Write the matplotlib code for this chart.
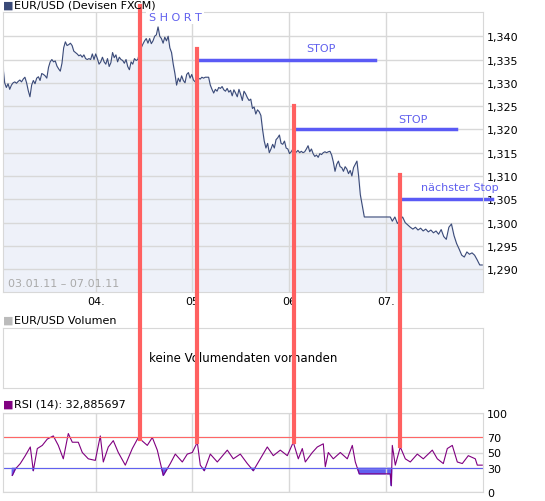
import numpy as np
import matplotlib
matplotlib.use('Agg')
from matplotlib import pyplot as plt
from matplotlib import transforms
from matplotlib.lines import Line2D

# EUR/USD quotes (x in 15-minute bars from 03.01.11 00:00)
price = [1.3350, 1.3335, 1.3300, 1.3290, 1.3298, 1.3286, 1.3295, 1.3300, 1.3302, 1.3299,
         1.3303, 1.3306, 1.3302, 1.3308, 1.3312, 1.3300, 1.3283, 1.3270, 1.3295, 1.3305,
         1.3298, 1.3310, 1.3313, 1.3305, 1.3320, 1.3318, 1.3315, 1.3310, 1.3333, 1.3345,
         1.3350, 1.3345, 1.3347, 1.3336, 1.3330, 1.3325, 1.3342, 1.3375, 1.3388, 1.3380,
         1.3382, 1.3385, 1.3380, 1.3368, 1.3365, 1.3362, 1.3358, 1.3360, 1.3355, 1.3360,
         1.3352, 1.3350, 1.3352, 1.3350, 1.3362, 1.3350, 1.3362, 1.3352, 1.3340, 1.3345,
         1.3355, 1.3345, 1.3340, 1.3352, 1.3335, 1.3343, 1.3365, 1.3354, 1.3360, 1.3345,
         1.3355, 1.3350, 1.3348, 1.3342, 1.3350, 1.3335, 1.3328, 1.3345, 1.3340, 1.3352,
         1.3348, 1.3350, 1.3365, 1.3375, 1.3383, 1.3390, 1.3395, 1.3385, 1.3395, 1.3384,
         1.3390, 1.3400, 1.3403, 1.3420, 1.3400, 1.3395, 1.3385, 1.3398, 1.3390, 1.3400,
         1.3375, 1.3365, 1.3340, 1.3320, 1.3295, 1.3310, 1.3302, 1.3315, 1.3305, 1.3300,
         1.3318, 1.3322, 1.3310, 1.3318, 1.3306, 1.3302, 1.3306, 1.3310, 1.3308, 1.3312,
         1.3310, 1.3312, 1.3312, 1.3312, 1.3295, 1.3286, 1.3278, 1.3286, 1.3282, 1.3290,
         1.3288, 1.3292, 1.3285, 1.3282, 1.3288, 1.3280, 1.3284, 1.3272, 1.3285, 1.3278,
         1.3270, 1.3286, 1.3275, 1.3262, 1.3282, 1.3276, 1.3268, 1.3262, 1.3265, 1.3245,
         1.3248, 1.3233, 1.3242, 1.3238, 1.3230, 1.3200, 1.3175, 1.3160, 1.3170, 1.3150,
         1.3158, 1.3168, 1.3160, 1.3178, 1.3182, 1.3188, 1.3170, 1.3168, 1.3175, 1.3160,
         1.3158, 1.3148, 1.3152, 1.3158, 1.3155, 1.3151, 1.3155, 1.3150, 1.3153, 1.3150,
         1.3152, 1.3158, 1.3165, 1.3152, 1.3158, 1.3148, 1.3142, 1.3145, 1.3140, 1.3148,
         1.3146, 1.3150, 1.3152, 1.3150, 1.3152, 1.3153, 1.3145, 1.3130, 1.3110, 1.3125,
         1.3132, 1.3120, 1.3118, 1.3110, 1.3120, 1.3115, 1.3105, 1.3112, 1.3100, 1.3118,
         1.3125, 1.3132, 1.3100, 1.3060, 1.3012, 1.3012, 1.3012, 1.3012, 1.3003, 1.3012,
         1.2998, 1.3005, 1.3012, 1.3000, 1.2995, 1.2990, 1.2986, 1.2990, 1.2984, 1.2988,
         1.2982, 1.2986, 1.2980, 1.2984, 1.2978, 1.2982, 1.2975, 1.2985, 1.2970, 1.2964,
         1.2990, 1.2997, 1.2972, 1.2955, 1.2943, 1.2930, 1.2926, 1.2937, 1.2932, 1.2935,
         1.2930, 1.2920, 1.2909, 1.2909]
# sample times: regular quotes up to the drop, flat gap (no quotes), regular again
price_x = list(np.linspace(1, 360, 214)) + [364, 374, 384, 390] + list(np.linspace(392, 482, 36))

rsi_x = [12, 15, 20, 25, 30, 33, 37, 42, 47, 53, 58, 63, 68, 72, 78, 82, 88, 95, 100, 103,
         108, 113, 118, 125, 132, 138, 147, 152, 157, 163, 170, 175, 182, 187, 192, 197,
         200, 204, 210, 217, 227, 233, 240, 247, 253, 260, 267, 273, 280, 287, 293, 298,
         302, 305, 312, 317, 323, 325, 328, 333, 340, 347, 352, 355, 359, 390, 391, 392,
         395, 400, 405, 410, 417, 423, 432, 437, 443, 447, 452, 457, 462, 468, 475, 477, 482]
rsi = [21, 29, 36, 46, 57, 27, 55, 59, 67, 71, 59, 42, 74, 63, 63, 50, 42, 40, 71, 38,
       57, 65, 50, 34, 55, 69, 59, 69, 53, 21, 36, 48, 38, 48, 50, 63, 34, 27, 48, 38,
       53, 42, 48, 36, 27, 42, 57, 46, 53, 46, 63, 42, 55, 38, 50, 57, 61, 32, 50, 42,
       50, 42, 59, 38, 23, 23, 8, 59, 34, 57, 42, 38, 48, 42, 53, 42, 36, 55, 59, 38,
       36, 46, 42, 34, 34]

day_ticks = [96, 192, 289, 386]
day_labels = ['04.', '05', '06', '07.']
price_ticks = [1.290, 1.295, 1.300, 1.305, 1.310, 1.315, 1.320, 1.325, 1.330, 1.335, 1.340]

# signals: (bar, top pixel y, bottom pixel y)
signals = [(140, 7, 440), (197, 50, 443), (294, 107, 443), (400, 176, 447)]
# stops: (price, start bar, end bar, label, label bar, label price)
stops = [(1.335, 197, 375, 'STOP', 321, 1.3375),
         (1.320, 294, 456, 'STOP', 413, 1.3223),
         (1.305, 400, 492, 'nächster Stop', 460, 1.3076)]

W, H = 545, 502
fig = plt.figure(figsize=(W / 100, H / 100), dpi=100)
plt.rcParams['font.size'] = 8


def pax(x0, y0, x1, y1):
    return fig.add_axes([x0 / W, 1 - y1 / H, (x1 - x0) / W, (y1 - y0) / H])


grid_c = '#d8d8d8'
xlim = (2.7, 482.7)

ax = pax(3, 13, 483, 293)
ax.plot(price_x, price, color='#3a4a78', lw=0.8)
ax.fill_between(price_x, price, 1.2851, color='#eef1f9')
ax.set_xlim(*xlim)
ax.set_ylim(1.2851, 1.3452)
ax.set_yticks(price_ticks)
ax.set_yticklabels([('%.3f' % v).replace('.', ',') for v in price_ticks])
ax.set_xticks(day_ticks)
ax.set_xticklabels(day_labels)
ax.yaxis.tick_right()
ax.tick_params(length=0, pad=3)
ax.grid(color=grid_c, lw=1)
for s in ax.spines.values():
    s.set_color(grid_c)
ax.text(0.01, 0.02, '03.01.11 – 07.01.11', transform=ax.transAxes, color='#aaaaaa')
ax.text(175, 1.3442, 'S H O R T', color='#6060ee', ha='center', va='center',
        bbox=dict(facecolor='white', edgecolor='none', pad=2))
for lvl, x0, x1, lab, lx, ly in stops:
    ax.plot([x0, x1], [lvl, lvl], color='#5a5af5', lw=2.5, clip_on=False)
    ax.text(lx, ly, lab, color='#6060ee', ha='center', va='center')

fig.text(3 / W, 1 - 6 / H, '■', color='#3a4a78', va='center')
fig.text(14 / W, 1 - 6 / H, 'EUR/USD (Devisen FXCM)', va='center')

vax = pax(3, 329, 483, 389)
vax.set_xticks([])
vax.set_yticks([])
for s in vax.spines.values():
    s.set_color(grid_c)
vax.text(0.5, 0.5, 'keine Volumendaten vorhanden', transform=vax.transAxes,
         ha='center', va='center', fontsize=8.5)
fig.text(3 / W, 1 - 321 / H, '■', color='#bbbbbb', va='center')
fig.text(14 / W, 1 - 321 / H, 'EUR/USD Volumen', va='center')

rax = pax(3, 414, 483, 493)
rax.plot(rsi_x, rsi, color='#800080', lw=0.8)
rsi_arr = np.array(rsi, dtype=float)
rax.fill_between(rsi_x, rsi_arr, 30, where=rsi_arr < 30, color='#6060f0',
                 interpolate=True)
rax.axhline(70, color='#ff6666', lw=0.8)
rax.axhline(30, color='#6060f0', lw=0.8)
rax.set_xlim(*xlim)
rax.set_ylim(0, 100)
rax.set_yticks([0, 30, 50, 70, 100])
rax.set_yticklabels(['0', '30', '50', '70', '100'])
for lab, c in zip(rax.get_yticklabels(), ['k', '#6060f0', 'k', '#ff6666', 'k']):
    lab.set_color(c)
rax.set_xticks(day_ticks)
rax.set_xticklabels([])
rax.yaxis.tick_right()
rax.tick_params(length=0, pad=3)
rax.grid(color=grid_c, lw=1)
for s in rax.spines.values():
    s.set_color(grid_c)
fig.text(3 / W, 1 - 405 / H, '■', color='#800080', va='center')
fig.text(14 / W, 1 - 405 / H, 'RSI (14): 32,885697', va='center')

tr = transforms.blended_transform_factory(ax.transData, fig.transFigure)
for bx, y0, y1 in signals:
    fig.add_artist(Line2D([bx, bx], [1 - y0 / H, 1 - y1 / H], transform=tr,
                          color='#ff6060', lw=3))

fig.savefig('out.png', dpi=100)
